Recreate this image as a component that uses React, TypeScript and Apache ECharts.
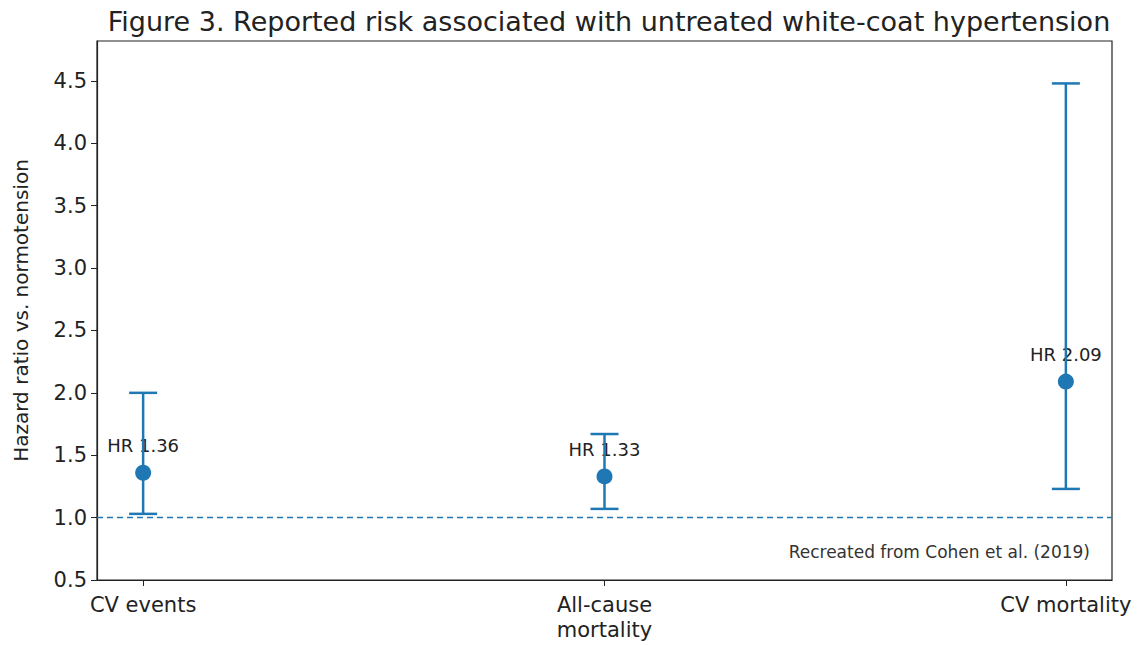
import React, { useEffect, useRef } from "react";
import * as echarts from "echarts";

const titleText = "Figure 3. Reported risk associated with untreated white-coat hypertension";
const categories = ["CV events", "All-cause\nmortality", "CV mortality"];
const hr = [1.36, 1.33, 2.09];
const ciLow = [1.03, 1.07, 1.23];
const ciHigh = [2.0, 1.67, 4.48];
const yTicks = [0.5, 1.0, 1.5, 2.0, 2.5, 3.0, 3.5, 4.0, 4.5];
const xTicks = [0, 1, 2];
const refLine = 1.0;
const yAxisName = "Hazard ratio vs. normotension";
const noteText = "Recreated from Cohen et al. (2019)";

const BLUE = "#1f77b4";
const FONT = "DejaVu Sans";

export default function App() {
  const ref = useRef<HTMLDivElement>(null);
  useEffect(() => {
    if (!ref.current) return;
    const chart = echarts.init(ref.current, null, { renderer: "svg" });
    const option: any = {
      animation: false,
      backgroundColor: "#ffffff",
      textStyle: { fontFamily: FONT },
      title: {
        text: titleText,
        left: 604,
        textAlign: "center",
        top: 3,
        textStyle: { fontFamily: FONT, fontSize: 27, fontWeight: "normal", color: "#222" },
      },
      grid: {
        left: 97,
        right: 28,
        top: 41,
        bottom: 65,
        containLabel: false,
        outerBoundsMode: "none",
        show: true,
        borderColor: "#222",
        borderWidth: 1.2,
        backgroundColor: "transparent",
      },
      xAxis: {
        type: "value",
        min: -0.1,
        max: 2.1,
        splitLine: { show: false },
        axisLine: { show: true, onZero: false, lineStyle: { color: "#222", width: 1.2 } },
        axisTick: { show: true, customValues: xTicks, length: 6, lineStyle: { color: "#222" } },
        axisLabel: {
          customValues: xTicks,
          formatter: (v: number) => categories[Math.round(v)] ?? "",
          fontFamily: FONT,
          fontSize: 21,
          color: "#222",
          margin: 12,
          lineHeight: 25,
        },
      },
      yAxis: {
        type: "value",
        min: 0.5,
        max: 4.82,
        name: yAxisName,
        nameLocation: "middle",
        nameGap: 66,
        nameTextStyle: { fontFamily: FONT, fontSize: 20, color: "#222" },
        splitLine: { show: false },
        axisLine: { show: true, onZero: false, lineStyle: { color: "#222", width: 1.2 } },
        axisTick: { show: true, customValues: yTicks, length: 6, lineStyle: { color: "#222" } },
        axisLabel: {
          customValues: yTicks,
          formatter: (v: number) => v.toFixed(1),
          fontFamily: FONT,
          fontSize: 21,
          color: "#222",
          margin: 10,
        },
      },
      series: [
        {
          type: "line",
          data: [],
          markLine: {
            silent: true,
            symbol: "none",
            label: { show: false },
            lineStyle: { color: BLUE, type: [6, 4], width: 1.3 },
            data: [{ yAxis: refLine }],
          },
        },
        {
          type: "scatter",
          data: hr.map((v, i) => [i, v]),
          symbol: "circle",
          symbolSize: 16,
          itemStyle: { color: BLUE, opacity: 1 },
          z: 3,
          label: {
            show: true,
            position: "top",
            distance: 10,
            formatter: (p: any) => "HR " + p.value[1].toFixed(2),
            fontFamily: FONT,
            fontSize: 18,
            color: "#222",
          },
        },
        {
          type: "custom",
          z: 4,
          data: hr.map((_, i) => [i, ciLow[i], ciHigh[i]]),
          renderItem: (params: any, api: any) => {
            const x = api.value(0);
            const lo = api.coord([x, api.value(1)]);
            const hi = api.coord([x, api.value(2)]);
            const hw = 14;
            const style = { stroke: BLUE, lineWidth: 2.5, fill: "none" };
            return {
              type: "group",
              children: [
                { type: "line", shape: { x1: lo[0], y1: lo[1], x2: hi[0], y2: hi[1] }, style },
                { type: "line", shape: { x1: lo[0] - hw, y1: lo[1], x2: lo[0] + hw, y2: lo[1] }, style },
                { type: "line", shape: { x1: hi[0] - hw, y1: hi[1], x2: hi[0] + hw, y2: hi[1] }, style },
              ],
            };
          },
        },
      ],
      graphic: [
        {
          type: "text",
          right: 50,
          top: 543,
          style: { text: noteText, font: `17px "${FONT}"`, fill: "#333" },
        },
      ],
    };
    chart.setOption(option);
    return () => chart.dispose();
  }, []);
  return (
    <div
      ref={ref}
      style={{ position: "fixed", left: 0, top: 0, width: 1140, height: 645 }}
    />
  );
}
